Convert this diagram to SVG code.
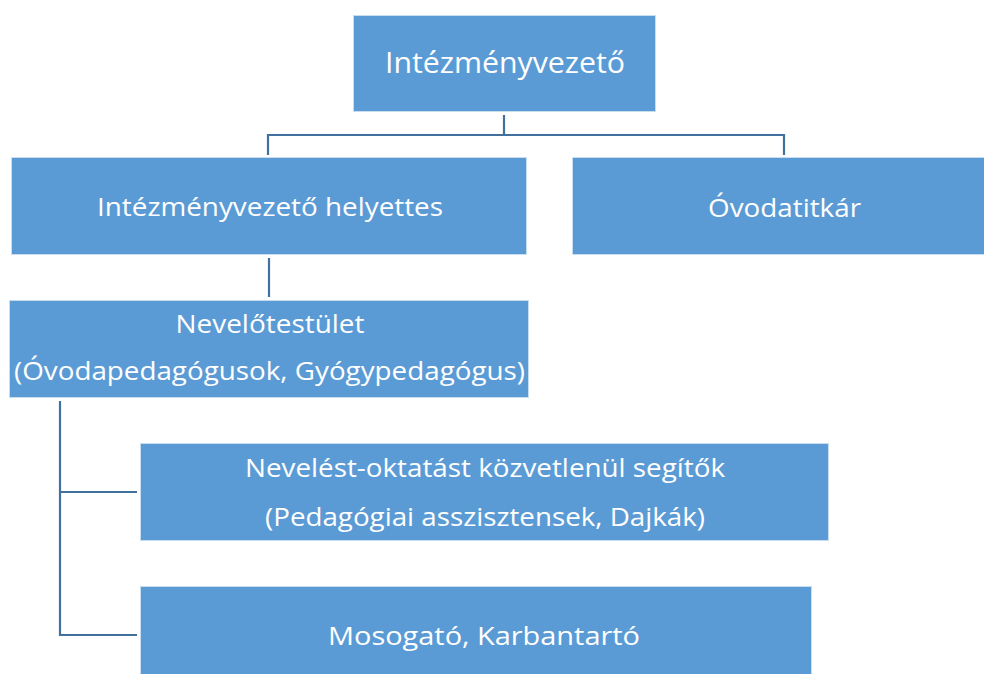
<svg xmlns="http://www.w3.org/2000/svg" width="984" height="674" viewBox="0 0 984 674">
<style>
.box{fill:#5B9BD5;stroke:#C9DDF0;stroke-width:1}
.t{fill:#FFFFFF;font-family:"Open Sans","Noto Sans","Liberation Sans",sans-serif;font-size:26px;text-anchor:middle}
.big{font-size:30px}
.c{fill:none;stroke:#41719C;stroke-width:2.2}
</style>
<rect width="984" height="674" fill="#FFFFFF"/>
<g id="connectors">
<path class="c" d="M504,115 V135 M268,135 H785 M268,134 V155 M784,134 V155"/>
<path class="c" d="M269,258 V297"/>
<path class="c" d="M60,401 V635 H137 M60,492 H137"/>
</g>
<g id="n-intezmenyvezeto">
<rect class="box" x="353.5" y="15.5" width="302" height="96"/>
<text class="t big" x="505" y="73" textLength="240" lengthAdjust="spacingAndGlyphs">Intézményvezető</text>
</g>
<g id="n-helyettes">
<rect class="box" x="11.5" y="157.5" width="515" height="97"/>
<text class="t" x="270" y="216" textLength="346" lengthAdjust="spacingAndGlyphs">Intézményvezető helyettes</text>
</g>
<g id="n-ovodatitkar">
<rect class="box" x="572.5" y="157.5" width="412" height="97"/>
<text class="t" x="784.5" y="217" textLength="153" lengthAdjust="spacingAndGlyphs">Óvodatitkár</text>
</g>
<g id="n-nevelotestulet">
<rect class="box" x="9.5" y="300.5" width="519" height="97"/>
<text class="t" x="270" y="333" textLength="189" lengthAdjust="spacingAndGlyphs">Nevelőtestület</text>
<text class="t" x="269.5" y="380" textLength="511" lengthAdjust="spacingAndGlyphs">(Óvodapedagógusok, Gyógypedagógus)</text>
</g>
<g id="n-segitok">
<rect class="box" x="140.5" y="443.5" width="688" height="97"/>
<text class="t" x="485" y="477" textLength="480" lengthAdjust="spacingAndGlyphs">Nevelést-oktatást közvetlenül segítők</text>
<text class="t" x="485" y="526" textLength="440" lengthAdjust="spacingAndGlyphs">(Pedagógiai asszisztensek, Dajkák)</text>
</g>
<g id="n-mosogato">
<rect class="box" x="140.5" y="586.5" width="671" height="88"/>
<text class="t" x="484" y="645" textLength="312" lengthAdjust="spacingAndGlyphs">Mosogató, Karbantartó</text>
</g>
</svg>
